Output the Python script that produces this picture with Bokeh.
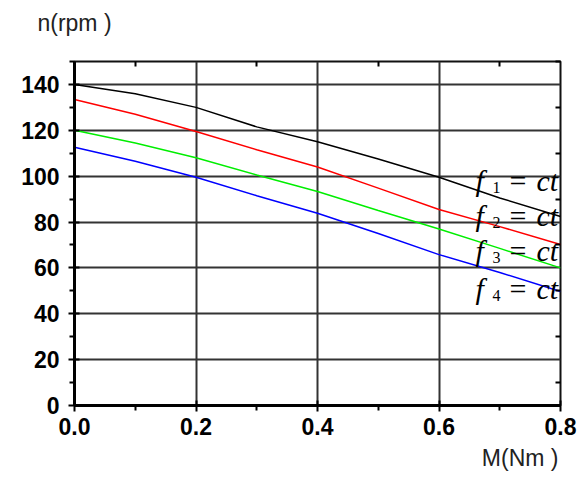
from bokeh.plotting import figure
from bokeh.models import Range1d, FixedTicker, LinearAxis, Label, PrintfTickFormatter, Title
from bokeh.embed import file_html
from bokeh.resources import INLINE

# ---- data ----
torque = [0.0, 0.1, 0.2, 0.3, 0.4, 0.5, 0.6, 0.7, 0.8]
speed_f1 = [140, 135.9, 130, 121.5, 115, 107.5, 99.5, 90.5, 82.4]
speed_f2 = [133.4, 127, 119.5, 111.5, 104, 94.8, 85.5, 78, 70.2]
speed_f3 = [120, 114.5, 108, 100.5, 93.3, 85, 77, 68.5, 60]
speed_f4 = [112.6, 106.5, 99.5, 91.5, 83.8, 75, 65.8, 58, 49.7]
series_colors = ["black", "#ff0000", "#00ee00", "#0000ff"]
series_index = ["1", "2", "3", "4"]
label_y = [98, 82.7, 67.4, 51]
label_x = 0.66
x_ticks = [0.0, 0.2, 0.4, 0.6, 0.8]
x_minor = [0.1, 0.3, 0.5, 0.7]
y_ticks = [0, 20, 40, 60, 80, 100, 120, 140]
y_minor = [10, 30, 50, 70, 90, 110, 130, 150]

p = figure(width=583, height=480, output_backend="svg", toolbar_location=None,
           x_range=Range1d(0, 0.8), y_range=Range1d(0, 150),
           min_border_left=74, min_border_right=23, min_border_top=61, min_border_bottom=75)
p.background_fill_color = "white"
p.border_fill_color = "white"
p.outline_line_color = "#111111"
p.outline_line_width = 2

for ys, c in zip([speed_f1, speed_f2, speed_f3, speed_f4], series_colors):
    p.line(torque, ys, line_color=c, line_width=1.5)

p.xaxis.ticker = FixedTicker(ticks=x_ticks, minor_ticks=x_minor)
p.yaxis.ticker = FixedTicker(ticks=y_ticks, minor_ticks=y_minor)
p.xaxis.formatter = PrintfTickFormatter(format="%.1f")
p.xgrid.ticker = FixedTicker(ticks=x_ticks)
p.ygrid.ticker = FixedTicker(ticks=y_ticks)
for g in (p.xgrid, p.ygrid):
    g.grid_line_color = "#333333"
    g.grid_line_width = 2

for ax in (p.xaxis, p.yaxis):
    ax.axis_line_width = 3
    ax.axis_line_color = "black"
    ax.major_tick_line_width = 2
    ax.minor_tick_line_width = 2
    ax.major_tick_in = 5
    ax.major_tick_out = 6
    ax.minor_tick_in = 0
    ax.minor_tick_out = 5
    ax.major_label_text_font = "Liberation Sans"
    ax.major_label_text_font_size = "23px"
    ax.major_label_text_font_style = "bold"
    ax.major_label_text_color = "black"
p.yaxis.major_label_standoff = 9
p.xaxis.major_label_standoff = 6

# top and right borders with inward minor ticks only
top = LinearAxis(ticker=FixedTicker(ticks=[], minor_ticks=x_minor),
                 axis_line_color=None, major_tick_in=0, major_tick_out=0,
                 minor_tick_in=5, minor_tick_out=0, minor_tick_line_width=2,
                 major_label_standoff=0)
right = LinearAxis(ticker=FixedTicker(ticks=[], minor_ticks=y_minor),
                   axis_line_color=None, major_tick_in=0, major_tick_out=0,
                   minor_tick_in=5, minor_tick_out=0, minor_tick_line_width=2,
                   major_label_standoff=0)

# y title "n(rpm)" as the top axis label, centred over the left edge
top.axis_label = "n(rpm )"
top.axis_label_text_font = "Liberation Sans"
top.axis_label_text_font_size = "23px"
top.axis_label_text_font_style = "normal"
top.axis_label_text_color = "#222222"
top.axis_label_standoff = 26
if "axis_label_align" in top.properties():
    top.axis_label_align = "start"
p.add_layout(top, "above")
p.add_layout(right, "right")

# empty spacer axis below the x axis, then the x title "M(Nm)" right aligned
spacer = LinearAxis(ticker=FixedTicker(ticks=[], minor_ticks=[]),
                    axis_line_color=None, major_tick_in=0, major_tick_out=9,
                    minor_tick_in=0, minor_tick_out=0, major_label_standoff=0)
p.add_layout(spacer, "below")
xt = Title(text="M(Nm )", align="right", offset=2, text_font="Liberation Sans",
           text_font_size="23px", text_font_style="normal", text_color="#222222")
p.add_layout(xt, "below")

# curve labels f_i = ct
for yv, idx in zip(label_y, series_index):
    p.add_layout(Label(x=label_x, y=yv, text="f", text_font="Liberation Serif",
                       text_font_style="italic", text_font_size="30px", text_color="black",
                       text_baseline="alphabetic", text_align="left"))
    p.add_layout(Label(x=label_x, y=yv, x_offset=17, y_offset=-7, text=idx,
                       text_font="Liberation Serif", text_font_size="16px", text_color="black",
                       text_baseline="alphabetic", text_align="left"))
    p.add_layout(Label(x=label_x, y=yv, x_offset=34, text="=",
                       text_font="Liberation Serif", text_font_size="30px", text_color="black",
                       text_baseline="alphabetic", text_align="left"))
    p.add_layout(Label(x=label_x, y=yv, x_offset=61, text="ct",
                       text_font="Liberation Serif", text_font_style="italic", text_color="black",
                       text_font_size="30px", text_baseline="alphabetic", text_align="left"))

open("out.html", "w").write(file_html(p, INLINE))
